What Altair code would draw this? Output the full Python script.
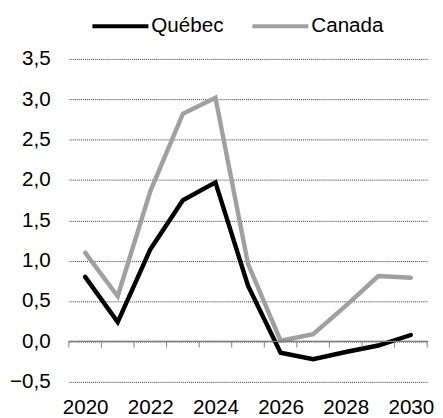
import altair as alt
import pandas as pd

years = list(range(2020, 2031))
quebec = [0.80, 0.24, 1.14, 1.75, 1.97, 0.69, -0.14, -0.22, -0.13, -0.05, 0.08]
canada = [1.10, 0.56, 1.86, 2.82, 3.02, 0.96, 0.01, 0.09, 0.44, 0.81, 0.79]
series_names = ["Québec", "Canada"]
series_colors = ["#000000", "#a0a0a0"]
x_labels = [2020, 2022, 2024, 2026, 2028, 2030]
y_ticks = [-0.5, 0.0, 0.5, 1.0, 1.5, 2.0, 2.5, 3.0, 3.5]
tick_bounds = [2019.5 + i for i in range(12)]

rows = []
for y, q, c in zip(years, quebec, canada):
    rows.append({"year": y, "value": q, "series": "Québec"})
    rows.append({"year": y, "value": c, "series": "Canada"})
df = pd.DataFrame(rows)
ticks_df = pd.DataFrame({"x": tick_bounds, "y0": [0.0] * len(tick_bounds), "y1": [-0.075] * len(tick_bounds)})

FONT = "Liberation Sans"
FS = 21

xscale = alt.Scale(domain=[2019.5, 2030.5], nice=False, zero=False)
yscale = alt.Scale(domain=[-0.5, 3.5], nice=False, zero=False)

x_enc = alt.X("year:Q", scale=xscale,
              axis=alt.Axis(values=x_labels, format="d", ticks=False, domain=False, grid=False,
                            labelFontSize=FS, labelPadding=15, title=None, labelColor="black",
                            labelFlush=False, labelFont=FONT))
y_enc = alt.Y("value:Q", scale=yscale,
              axis=alt.Axis(values=y_ticks, labelExpr="replace(format(datum.value, '.1f'), '.', ',')",
                            domain=False, ticks=False, gridDash=[1, 1], gridColor="#333333",
                            gridWidth=1, labelFontSize=FS, labelPadding=19, title=None,
                            labelColor="black", labelFont=FONT))

color_enc = alt.Color("series:N",
                      scale=alt.Scale(domain=series_names, range=series_colors),
                      legend=alt.Legend(orient="none", legendX=22, legendY=-64, direction="horizontal",
                                        symbolType="stroke", symbolStrokeWidth=4, symbolSize=3249,
                                        labelFontSize=FS, labelOffset=1, columnPadding=21, title=None,
                                        labelColor="black", padding=0, labelFont=FONT))

zero = alt.Chart(ticks_df).mark_rule(color="#808080", strokeWidth=1).encode(
    y=alt.Y("y0:Q", scale=yscale), x=alt.value(0), x2=alt.value(365))
tick_marks = alt.Chart(ticks_df).mark_rule(color="#808080", strokeWidth=1).encode(
    x=alt.X("x:Q", scale=xscale), y=alt.Y("y0:Q", scale=yscale), y2="y1:Q")

can = alt.Chart(df).transform_filter(alt.datum.series == "Canada").mark_line(
    strokeWidth=4.5, strokeCap="round", strokeJoin="miter").encode(x=x_enc, y=y_enc, color=color_enc)
que = alt.Chart(df).transform_filter(alt.datum.series == "Québec").mark_line(
    strokeWidth=4.5, strokeCap="round", strokeJoin="miter").encode(x=x_enc, y=y_enc, color=color_enc)

chart = alt.layer(can, que, zero, tick_marks).properties(
    width=365, height=329,
    autosize=alt.AutoSizeParams(type="none"),
    padding={"left": 62, "top": 48, "right": 8, "bottom": 34},
).configure(font=FONT).configure_view(stroke=None)

chart.save("out.html", embed_options={"renderer": "svg", "actions": False})
